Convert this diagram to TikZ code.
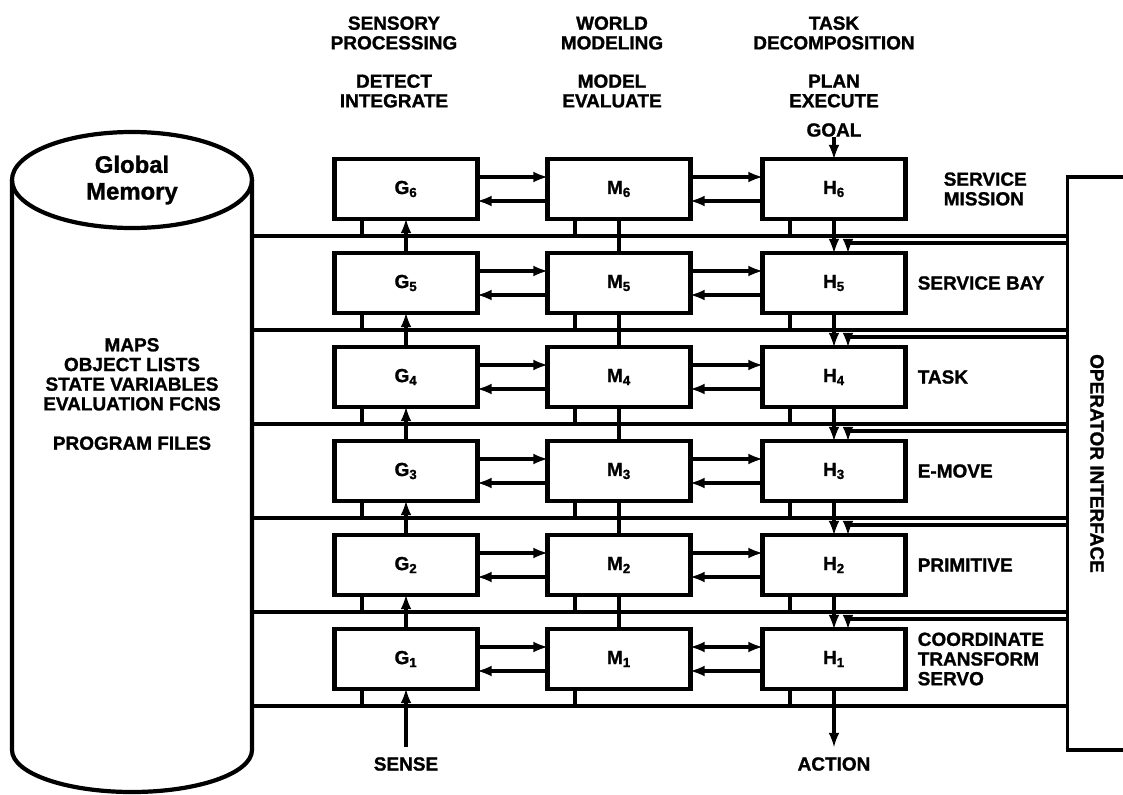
\documentclass[tikz,border=0pt]{standalone}
\usepackage{fontspec}
\setmainfont{Liberation Sans}[BoldFeatures={FakeBold=1.2}]
\usepackage{tikz}
\usetikzlibrary{positioning}

\begin{document}
\begin{tikzpicture}[font=\bfseries\fontsize{13.5}{14}\selectfont,
    block/.style={draw, line width=3pt, minimum width=3.575cm,
        minimum height=1.5cm, inner sep=0pt, outer sep=0pt},
    tag/.style={inner sep=0pt, align=center},
    side/.style={inner sep=0pt, align=left},
    bus/.style={line width=2.4pt},
    >=latex]
    \useasboundingbox (-10.15,4.725) rectangle (17.925,-15.125);
    % Add the boxes
        \node[block] (g6) {G\textsubscript{6}};
        \node[block,
            right=1.75cm of g6
            ] (m6) {M\textsubscript{6}};
        \node[block,
            right=1.8cm of m6
            ] (h6) {H\textsubscript{6}};
        \node[block,
            below=0.85cm of g6
            ] (g5) {G\textsubscript{5}};
        \node[block,
            below=0.85cm of m6
            ] (m5) {M\textsubscript{5}};
        \node[block,
            below=0.85cm of h6
            ] (h5) {H\textsubscript{5}};
        \node[block,
            below=0.85cm of g5
            ] (g4) {G\textsubscript{4}};
        \node[block,
            below=0.85cm of m5
            ] (m4) {M\textsubscript{4}};
        \node[block,
            below=0.85cm of h5
            ] (h4) {H\textsubscript{4}};
        \node[block,
            below=0.85cm of g4
            ] (g3) {G\textsubscript{3}};
        \node[block,
            below=0.85cm of m4
            ] (m3) {M\textsubscript{3}};
        \node[block,
            below=0.85cm of h4
            ] (h3) {H\textsubscript{3}};
        \node[block,
            below=0.85cm of g3
            ] (g2) {G\textsubscript{2}};
        \node[block,
            below=0.85cm of m3
            ] (m2) {M\textsubscript{2}};
        \node[block,
            below=0.85cm of h3
            ] (h2) {H\textsubscript{2}};
        \node[block,
            below=0.85cm of g2
            ] (g1) {G\textsubscript{1}};
        \node[block,
            below=0.85cm of m2
            ] (m1) {M\textsubscript{1}};
        \node[block,
            below=0.85cm of h2
            ] (h1) {H\textsubscript{1}};

    % global memory and operator interface
        \node[minimum width=6cm, minimum height=14.25cm,
            inner sep=0pt, outer sep=0pt] (mem) at (-6.85,-6.9) {};
        \draw[line width=3pt] (mem.north west) -- (mem.south west)
            arc[start angle=180, end angle=360, x radius=3cm, y radius=1.05cm]
            -- (mem.north east);
        \draw[line width=3pt] (mem.north) ellipse [x radius=3cm, y radius=1.2cm];
        \node[tag, font=\bfseries\fontsize{17}{19}\selectfont] (gm) at (mem.north) {Global\\Memory};
        \node[tag] (data) at ([yshift=1.775cm]mem.center)
            {MAPS\\OBJECT LISTS\\STATE VARIABLES\\EVALUATION FCNS\\[14pt]PROGRAM FILES};
        \node[minimum width=1.46cm, minimum height=14.325cm,
            inner sep=0pt, outer sep=0pt] (oi) at (17.275,-6.8625) {};
        \draw[bus] (oi.north east) -- (oi.north west) -- (oi.south west) -- (oi.south east);
        \node[tag, rotate=-90] (oitext) at (oi) {OPERATOR INTERFACE};

    % column heads and labels
        \node[tag] (sp) at ([xshift=-0.3cm, yshift=3.15cm]g6.north) {SENSORY\\PROCESSING};
        \node[tag] (di) at ([xshift=-0.3cm, yshift=1.7cm]g6.north) {DETECT\\INTEGRATE};
        \node[tag] (wm) at ([xshift=-0.175cm, yshift=3.15cm]m6.north) {WORLD\\MODELING};
        \node[tag] (me) at ([xshift=-0.175cm, yshift=1.7cm]m6.north) {MODEL\\EVALUATE};
        \node[tag] (td) at ([yshift=3.15cm]h6.north) {TASK\\DECOMPOSITION};
        \node[tag] (pe) at ([yshift=1.7cm]h6.north) {PLAN\\EXECUTE};
        \node[tag, above=0.55cm of h6] (goal) {GOAL};
        \node[tag, below=1.7cm of g1] (sense) {SENSE};
        \node[tag, below=1.7cm of h1] (action) {ACTION};
        \node[side, right=0.95cm of h6] (l6) {SERVICE\\MISSION};
        \node[side, right=0.3cm of h5] (l5) {SERVICE BAY};
        \node[side, right=0.3cm of h4] (l4) {TASK};
        \node[side, right=0.3cm of h3] (l3) {E-MOVE};
        \node[side, right=0.3cm of h2] (l2) {PRIMITIVE};
        \node[side, right=0.3cm of h1] (l1) {COORDINATE\\TRANSFORM\\SERVO};

    % buses
        \coordinate[below=0.425cm of g6] (b6);
        \coordinate[below=0.425cm of g5] (b5);
        \coordinate[below=0.425cm of g4] (b4);
        \coordinate[below=0.425cm of g3] (b3);
        \coordinate[below=0.425cm of g2] (b2);
        \coordinate[below=0.425cm of g1] (b1);
        \draw[bus]
            (mem.east |- b6) -- (oi.west |- b6)
            (mem.east |- b5) -- (oi.west |- b5)
            (mem.east |- b4) -- (oi.west |- b4)
            (mem.east |- b3) -- (oi.west |- b3)
            (mem.east |- b2) -- (oi.west |- b2)
            (mem.east |- b1) -- (oi.west |- b1);
        \draw[bus]
            ([xshift=-1.1cm]g6.south) -- ([xshift=-1.1cm]g6.south |- b6)
            ([xshift=-1.1cm]m6.south) -- ([xshift=-1.1cm]m6.south |- b6)
            ([xshift=-1.1cm]h6.south) -- ([xshift=-1.1cm]h6.south |- b6)
            ([xshift=-1.1cm]g5.south) -- ([xshift=-1.1cm]g5.south |- b5)
            ([xshift=-1.1cm]m5.south) -- ([xshift=-1.1cm]m5.south |- b5)
            ([xshift=-1.1cm]h5.south) -- ([xshift=-1.1cm]h5.south |- b5)
            ([xshift=-1.1cm]g4.south) -- ([xshift=-1.1cm]g4.south |- b4)
            ([xshift=-1.1cm]m4.south) -- ([xshift=-1.1cm]m4.south |- b4)
            ([xshift=-1.1cm]h4.south) -- ([xshift=-1.1cm]h4.south |- b4)
            ([xshift=-1.1cm]g3.south) -- ([xshift=-1.1cm]g3.south |- b3)
            ([xshift=-1.1cm]m3.south) -- ([xshift=-1.1cm]m3.south |- b3)
            ([xshift=-1.1cm]h3.south) -- ([xshift=-1.1cm]h3.south |- b3)
            ([xshift=-1.1cm]g2.south) -- ([xshift=-1.1cm]g2.south |- b2)
            ([xshift=-1.1cm]m2.south) -- ([xshift=-1.1cm]m2.south |- b2)
            ([xshift=-1.1cm]h2.south) -- ([xshift=-1.1cm]h2.south |- b2)
            ([xshift=-1.1cm]g1.south) -- ([xshift=-1.1cm]g1.south |- b1)
            ([xshift=-1.1cm]m1.south) -- ([xshift=-1.1cm]m1.south |- b1)
            ([xshift=-1.1cm]h1.south) -- ([xshift=-1.1cm]h1.south |- b1);

    % operator lines into the H boxes
        \coordinate[above right=0.25cm and 0.35cm of h5.north] (o5);
        \coordinate[above right=0.25cm and 0.35cm of h4.north] (o4);
        \coordinate[above right=0.25cm and 0.35cm of h3.north] (o3);
        \coordinate[above right=0.25cm and 0.35cm of h2.north] (o2);
        \coordinate[above right=0.25cm and 0.35cm of h1.north] (o1);
        \draw[bus, ->] (oi.west |- o5) -- (o5) -- (o5 |- h5.north);
        \draw[bus, ->] (oi.west |- o4) -- (o4) -- (o4 |- h4.north);
        \draw[bus, ->] (oi.west |- o3) -- (o3) -- (o3 |- h3.north);
        \draw[bus, ->] (oi.west |- o2) -- (o2) -- (o2 |- h2.north);
        \draw[bus, ->] (oi.west |- o1) -- (o1) -- (o1 |- h1.north);

    % vertical links
        \path[bus, ->]
            (sense) edge[shorten <=0.25cm] (g1)
            (g1) edge (g2)
            (g2) edge (g3)
            (g3) edge (g4)
            (g4) edge (g5)
            (g5) edge (g6)
            (goal) edge (h6)
            (h6) edge (h5)
            (h5) edge (h4)
            (h4) edge (h3)
            (h3) edge (h2)
            (h2) edge (h1)
            (h1) edge[shorten >=0.25cm] (action);
        \draw[bus]
            (m1) -- (m2)
            (m2) -- (m3)
            (m3) -- (m4)
            (m4) -- (m5)
            (m5) -- (m6);

    % horizontal links
        \path[bus, ->]
            ([yshift=0.3cm]g6.east) edge ([yshift=0.3cm]m6.west)
            ([yshift=-0.3cm]m6.west) edge ([yshift=-0.3cm]g6.east)
            ([yshift=0.3cm]m6.east) edge ([yshift=0.3cm]h6.west)
            ([yshift=-0.3cm]h6.west) edge ([yshift=-0.3cm]m6.east)
            ([yshift=0.3cm]g5.east) edge ([yshift=0.3cm]m5.west)
            ([yshift=-0.3cm]m5.west) edge ([yshift=-0.3cm]g5.east)
            ([yshift=0.3cm]m5.east) edge ([yshift=0.3cm]h5.west)
            ([yshift=-0.3cm]h5.west) edge ([yshift=-0.3cm]m5.east)
            ([yshift=0.3cm]g4.east) edge ([yshift=0.3cm]m4.west)
            ([yshift=-0.3cm]m4.west) edge ([yshift=-0.3cm]g4.east)
            ([yshift=0.3cm]m4.east) edge ([yshift=0.3cm]h4.west)
            ([yshift=-0.3cm]h4.west) edge ([yshift=-0.3cm]m4.east)
            ([yshift=0.3cm]g3.east) edge ([yshift=0.3cm]m3.west)
            ([yshift=-0.3cm]m3.west) edge ([yshift=-0.3cm]g3.east)
            ([yshift=0.3cm]m3.east) edge ([yshift=0.3cm]h3.west)
            ([yshift=-0.3cm]h3.west) edge ([yshift=-0.3cm]m3.east)
            ([yshift=0.3cm]g2.east) edge ([yshift=0.3cm]m2.west)
            ([yshift=-0.3cm]m2.west) edge ([yshift=-0.3cm]g2.east)
            ([yshift=0.3cm]m2.east) edge ([yshift=0.3cm]h2.west)
            ([yshift=-0.3cm]h2.west) edge ([yshift=-0.3cm]m2.east)
            ([yshift=0.3cm]g1.east) edge ([yshift=0.3cm]m1.west)
            ([yshift=-0.3cm]m1.west) edge ([yshift=-0.3cm]g1.east)
            ([yshift=0.3cm]m1.east) edge[<->] ([yshift=0.3cm]h1.west)
            ([yshift=-0.3cm]h1.west) edge ([yshift=-0.3cm]m1.east);
\end{tikzpicture}
\end{document}
